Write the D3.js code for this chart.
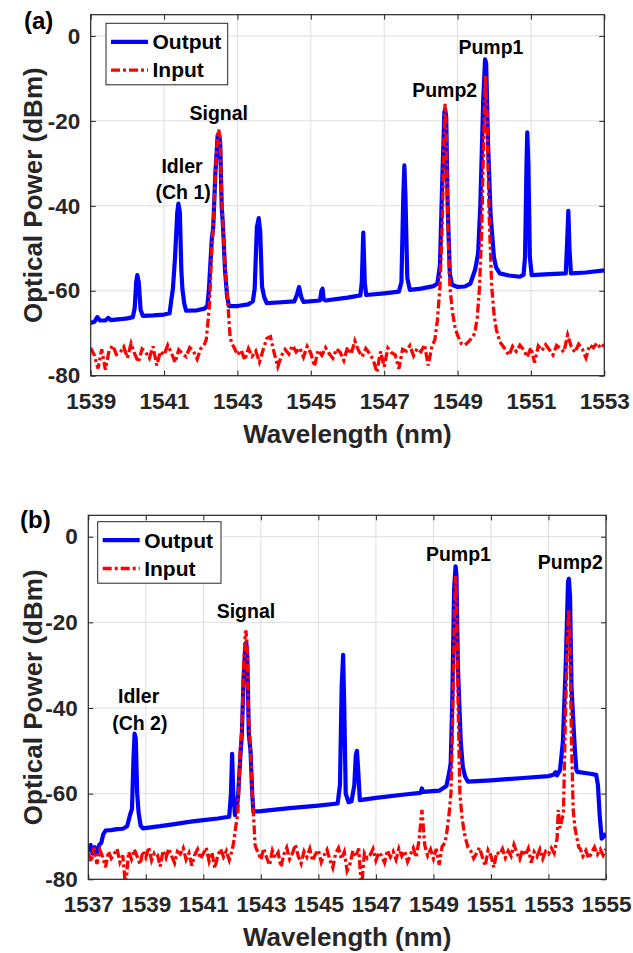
<!DOCTYPE html>
<html>
<head>
<meta charset="utf-8">
<script src="https://cdn.jsdelivr.net/npm/d3@7"></script>
<style>
body { margin: 0; background: #fff; }
text { font-family: "Liberation Sans", Arial, sans-serif; font-weight: bold; }
</style>
</head>
<body>
<div id="chart"></div>
<script>
// OSA sample spacing used for the noise floor readings (nm)
const floorStep = 0.1

// ---------- panel (a) ----------
const a_xticks = [1539, 1541, 1543, 1545, 1547, 1549, 1551, 1553]
const a_yticks = [0, -20, -40, -60, -80]

// Output spectrum [wavelength nm, power dBm]
const a_out = [
  [1539.0,-67.6],[1539.1,-67.3],[1539.18,-66.2],[1539.25,-67.0],[1539.4,-67.0],[1539.48,-66.4],[1539.55,-66.9],
  [1539.8,-66.7],[1540.0,-66.5],[1540.15,-66.2],[1540.2,-64],[1540.24,-58],[1540.27,-56.3],[1540.31,-58],
  [1540.36,-64.5],[1540.42,-65.9],[1540.7,-65.8],[1541.0,-65.6],[1541.15,-65.3],[1541.2,-62],[1541.24,-59.6],
  [1541.3,-52],[1541.36,-41.5],[1541.39,-39.5],[1541.43,-41.5],[1541.47,-55],[1541.5,-59.6],[1541.55,-63],
  [1541.6,-64.7],[1541.9,-64.6],[1542.1,-64.2],[1542.18,-63.6],[1542.22,-60],[1542.3,-48],[1542.34,-45],
  [1542.4,-32],[1542.46,-23.5],[1542.49,-23.1],[1542.53,-25],[1542.57,-40],[1542.61,-45.5],[1542.66,-55],
  [1542.72,-61.5],[1542.77,-63.6],[1543.0,-63.6],[1543.3,-63.2],[1543.42,-62.5],[1543.47,-59.5],[1543.53,-45],
  [1543.58,-42.9],[1543.62,-46],[1543.67,-59],[1543.73,-61.5],[1543.8,-62.9],[1544.2,-62.7],[1544.55,-62.5],
  [1544.62,-61],[1544.68,-59.1],[1544.74,-61.5],[1544.8,-62.6],[1545.25,-62.3],[1545.29,-60],[1545.32,-59.5],
  [1545.35,-62],[1545.4,-62.3],[1546.0,-61.6],[1546.35,-61.1],[1546.39,-58],[1546.43,-46.3],[1546.47,-58],
  [1546.51,-61.0],[1547.0,-60.6],[1547.4,-60.2],[1547.47,-58],[1547.52,-38],[1547.55,-30.5],[1547.58,-38],
  [1547.63,-57],[1547.7,-59.8],[1548.0,-59.5],[1548.35,-58.9],[1548.45,-58.3],[1548.52,-54],[1548.58,-35],
  [1548.64,-18],[1548.66,-17.2],[1548.69,-19],[1548.73,-40],[1548.79,-56],[1548.85,-58.6],[1549.0,-59.1],
  [1549.2,-59.0],[1549.35,-58.3],[1549.48,-55],[1549.56,-51.2],[1549.62,-40],[1549.7,-15],[1549.75,-5.5],
  [1549.78,-6.5],[1549.83,-25],[1549.9,-42],[1549.99,-52],[1550.05,-54.5],[1550.15,-55.9],[1550.4,-56.4],
  [1550.7,-56.7],[1550.8,-56.2],[1550.84,-52],[1550.88,-30],[1550.9,-22.7],[1550.93,-30],[1550.97,-52],
  [1551.02,-56.3],[1551.5,-56.1],[1551.95,-55.9],[1551.99,-48],[1552.02,-41.2],[1552.05,-50],[1552.09,-55.9],
  [1552.5,-55.7],[1553.0,-55.2]
]

// Input spectrum: peaks read point by point
const a_in_peaks = [
  [1542.15,-71.5],[1542.2,-67],[1542.24,-63],[1542.3,-50],[1542.34,-45],[1542.4,-32],[1542.46,-23],
  [1542.49,-22.1],[1542.53,-24],[1542.57,-38],[1542.61,-45.5],[1542.66,-54],[1542.74,-63],[1542.8,-71],
  [1542.85,-72.5],
  [1548.38,-71.6],[1548.45,-67],[1548.52,-59],[1548.58,-45],[1548.63,-25],[1548.66,-16],[1548.69,-22],
  [1548.74,-45],[1548.79,-59],[1548.86,-65],[1548.93,-68.5],[1549.0,-70.5],[1549.05,-71.5],[1549.1,-72.4],
  [1549.2,-72.8],[1549.3,-72.0],[1549.4,-71],[1549.47,-70],[1549.54,-66],[1549.6,-59],[1549.66,-45],
  [1549.71,-25],[1549.76,-9.4],[1549.8,-18],[1549.86,-42],[1549.93,-59],[1550.0,-66],[1550.06,-69.2],
  [1550.15,-72]
]
// Input noise floor, one reading per 0.1 nm, starting at these wavelengths
const a_in_floor_start = [1539.0, 1542.9, 1550.2]
const a_in_floor1 = [-73.5,-75.2,-78.3,-73.8,-78.6,-74.1,-72.9,-75.0,-74.6,-73.2,-75.8,-72.4,-74.9,-76.8,-73.7,-74.5,
  -75.9,-73.1,-77.6,-74.3,-75.1,-72.8,-74.6,-76.9,-73.9,-74.8,-75.5,-73.4,-74.2,-76.1,-73.6,-72.6]
const a_in_floor2 = [-73.2,-75.1,-74.0,-76.3,-73.6,-75.4,-74.2,-76.8,-73.9,-71.2,-70.8,-74.6,-77.9,-75.3,-73.8,-74.9,
  -72.9,-74.4,-73.5,-75.6,-73.1,-74.7,-77.8,-74.0,-75.2,-73.4,-74.8,-75.9,-73.7,-74.5,-76.4,-73.3,-74.9,-71.8,
  -74.1,-75.5,-73.6,-74.8,-76.2,-79.2,-74.3,-77.9,-73.5,-74.6,-75.1,-78.4,-73.8,-74.2,-72.9,-75.3,-73.6,-74.4,
  -72.7,-77.6,-73.1]
const a_in_floor3 = [-72.6,-73.8,-75.2,-73.1,-74.3,-72.8,-73.9,-75.6,-73.4,-76.9,-73.0,-74.1,-72.7,-73.8,-75.1,-72.9,
  -73.6,-74.4,-70.4,-73.2,-74.5,-72.6,-73.7,-75.8,-72.8,-73.4,-72.3,-73.5,-72.6]

const a_notes = [
  ["Signal", 1542.49, -19.7], ["Idler", 1541.49, -32.2], ["(Ch 1)", 1541.52, -38.5],
  ["Pump2", 1548.65, -14.3], ["Pump1", 1549.91, -4.3]
]

// ---------- panel (b) ----------
const b_xticks = [1537, 1539, 1541, 1543, 1545, 1547, 1549, 1551, 1553, 1555]
const b_yticks = [0, -20, -40, -60, -80]

const b_out = [
  [1537.0,-73.5],[1537.08,-72],[1537.15,-74],[1537.22,-72.5],[1537.3,-73.8],[1537.38,-72],[1537.45,-71.5],
  [1537.52,-69.5],[1537.6,-68.6],[1537.8,-68.5],[1538.0,-68.3],[1538.2,-68.2],[1538.35,-67.6],[1538.45,-65],
  [1538.52,-63.5],[1538.57,-52],[1538.61,-46],[1538.65,-47],[1538.7,-60],[1538.75,-64.5],[1538.82,-67.5],
  [1538.9,-68.1],[1539.5,-67.6],[1540.0,-67.1],[1540.5,-66.6],[1541.0,-66.2],[1541.5,-65.8],[1541.9,-65.4],
  [1541.96,-60],[1542.0,-50.7],[1542.04,-60],[1542.1,-65],[1542.2,-61.5],[1542.28,-52],[1542.34,-46],
  [1542.4,-33],[1542.46,-25.5],[1542.49,-24.7],[1542.53,-28],[1542.58,-46],[1542.64,-50],[1542.7,-60],
  [1542.74,-64.2],[1543.0,-64.1],[1544.0,-63.4],[1545.0,-62.8],[1545.67,-62.3],[1545.75,-58],[1545.81,-35],
  [1545.86,-27.6],[1545.9,-40],[1545.95,-60],[1546.05,-62],[1546.15,-61.8],[1546.25,-58],[1546.3,-51],
  [1546.34,-50],[1546.38,-54],[1546.44,-61.5],[1547.0,-61.0],[1548.0,-60.2],[1548.55,-59.8],[1548.6,-58.8],
  [1548.65,-59.6],[1549.2,-59.3],[1549.45,-58.2],[1549.55,-55],[1549.6,-52.9],[1549.65,-40],[1549.72,-12],
  [1549.77,-6.9],[1549.8,-9],[1549.85,-30],[1549.95,-48],[1550.02,-53.7],[1550.1,-56],[1550.2,-57.2],
  [1551.0,-56.9],[1552.0,-56.4],[1553.0,-55.9],[1553.17,-55.6],[1553.25,-55],[1553.3,-55.7],[1553.4,-54.5],
  [1553.5,-48],[1553.6,-30],[1553.68,-10.5],[1553.71,-9.8],[1553.75,-14],[1553.8,-35],[1553.86,-42.8],
  [1553.92,-50],[1553.97,-54.5],[1554.0,-54.9],[1554.4,-55.3],[1554.66,-55.6],[1554.72,-58],[1554.78,-65],
  [1554.85,-70.5],[1554.92,-70],[1555.0,-69.3]
]

const b_in_peaks = [
  [1542.05,-71.5],[1542.12,-68],[1542.2,-64.6],[1542.28,-50],[1542.34,-45],[1542.4,-30],[1542.46,-22.5],
  [1542.48,-21.9],[1542.52,-25],[1542.57,-42],[1542.63,-48],[1542.7,-60],[1542.74,-64.6],[1542.8,-72],
  [1542.85,-73],
  [1549.46,-69.3],[1549.54,-65],[1549.61,-59.9],[1549.67,-42],[1549.73,-18],[1549.77,-9.2],[1549.8,-14],
  [1549.86,-40],[1549.92,-60],[1550.0,-66],[1550.1,-70.1],[1550.2,-72.5],
  [1553.34,-63.8],[1553.4,-68],[1553.47,-66],[1553.52,-64.6],[1553.58,-45],[1553.64,-28],[1553.7,-17],
  [1553.74,-22],[1553.8,-48],[1553.86,-63.8],[1553.92,-68],[1553.98,-70.1],[1554.05,-72.5]
]
const b_in_floor_start = [1537.0, 1542.9, 1550.3, 1554.1]
const b_in_floor1 = [-73.8,-75.9,-72.6,-76.4,-73.1,-74.8,-77.2,-73.5,-75.1,-74.0,
  -72.9,-76.0,-74.4,-82.0,-73.6,-75.3,-73.0,-74.7,-76.5,-73.4,
  -74.9,-72.5,-75.6,-73.8,-74.2,-77.0,-73.3,-75.0,-72.8,-74.6,
  -76.2,-73.5,-74.1,-72.7,-75.4,-73.9,-76.8,-74.3,-73.0,-75.2,
  -74.0,-72.6,-75.8,-73.7,-77.4,-74.5,-72.9,-74.8,-73.4,-75.5,-73.2]
const b_in_floor2 = [-73.6,-75.4,-72.8,-74.9,-76.7,-73.3,-75.0,-73.8,-77.1,-74.2,-72.6,-75.3,-73.9,-71.9,-74.6,-76.3,
  -73.5,-74.8,-72.9,-75.7,-74.1,-73.2,-76.0,-74.4,-73.1,-75.5,-77.3,-74.0,-72.7,-75.2,-73.6,-78.0,-76.4,-73.3,
  -74.7,-72.8,-82.0,-73.9,-75.1,-74.3,-72.9,-75.6,-73.7,-74.5,-76.1,-73.2,-74.8,-73.5,-75.4,-72.8,-74.6,-73.4,
  -75.9,-74.2,-72.7,-74.9,-70.8,-63.8,-72.1,-74.5,-73.0,-75.2,-72.9,-76.6,-72.4,-71.5]
const b_in_floor3 = [-73.4,-75.1,-73.9,-72.6,-74.8,-76.9,-73.2,-74.5,-77.2,-73.7,-74.2,-72.9,-75.0,-73.4,-74.6,-71.9,
  -73.8,-75.3,-73.1,-74.4,-72.8,-76.1,-73.6,-74.7,-73.0,-75.2,-73.5,-74.1,-72.7,-73.9,-70.5]
const b_in_floor4 = [-72.8,-74.6,-73.3,-75.1,-73.8,-72.5,-74.2,-73.0,-74.4,-72.9]

const b_notes = [
  ["Signal", 1542.48, -19.0], ["Idler", 1538.75, -38.9], ["(Ch 2)", 1538.79, -45.1],
  ["Pump1", 1549.87, -5.7], ["Pump2", 1553.76, -7.5]
]

// join floor readings and peak points into one sorted trace
function buildInput(peaks, starts, floors){
  let pts = peaks.slice()
  floors.forEach(function(vals, k){
    vals.forEach(function(v, i){
      pts.push([+(starts[k] + i * floorStep).toFixed(2), v])
    })
  })
  pts.sort(function(a, b){ return a[0] - b[0] })
  return pts
}

const a_in = buildInput(a_in_peaks, a_in_floor_start, [a_in_floor1, a_in_floor2, a_in_floor3])
const b_in = buildInput(b_in_peaks, b_in_floor_start, [b_in_floor1, b_in_floor2, b_in_floor3, b_in_floor4])

var svg = d3.select("#chart")
  .append("svg")
  .attr("width", 633)
  .attr("height", 953)

const axisColor = "#262626"
const redDash = "9,3,3,3"

function drawPanel(p){
  var width = p.width, height = p.height
  var g = svg.append("g").attr("transform", "translate(" + p.left + "," + p.top + ")")

  var x = d3.scaleLinear().domain(p.xdomain).range([0, width])
  var y = d3.scaleLinear().domain([-80, 5]).range([height, 0])

  // grid
  g.append("g").selectAll("line").data(p.xticks).enter().append("line")
    .attr("x1", d => x(d)).attr("x2", d => x(d)).attr("y1", 0).attr("y2", height)
    .style("stroke", "#dfdfdf").style("stroke-width", 1)
  g.append("g").selectAll("line").data(p.yticks).enter().append("line")
    .attr("x1", 0).attr("x2", width).attr("y1", d => y(d)).attr("y2", d => y(d))
    .style("stroke", "#dfdfdf").style("stroke-width", 1)

  // data, clipped to the axes box
  var clipId = "clip" + p.name
  g.append("clipPath").attr("id", clipId)
    .append("rect").attr("width", width).attr("height", height)

  var line = d3.line().x(d => x(d[0])).y(d => y(d[1]))
  var data = g.append("g").attr("clip-path", "url(#" + clipId + ")")
  data.append("path").datum(p.out).attr("d", line)
    .style("fill", "none").style("stroke", "#0000ff").style("stroke-width", 4.2)
    .style("stroke-linejoin", "round")
  data.append("path").datum(p.input).attr("d", line)
    .style("fill", "none").style("stroke", "#ff0000").style("stroke-width", 3.3)
    .style("stroke-dasharray", redDash)

  // axes
  var fmt = d => String(d)
  var xb = g.append("g").attr("transform", "translate(0," + height + ")")
    .call(d3.axisBottom(x).tickValues(p.xticks).tickSize(-5).tickPadding(17).tickFormat(fmt))
  var yl = g.append("g")
    .call(d3.axisLeft(y).tickValues(p.yticks).tickSize(-5).tickPadding(10.5).tickFormat(fmt))
  var xt = g.append("g")
    .call(d3.axisTop(x).tickValues(p.xticks).tickSize(-5).tickFormat(""))
  var yr = g.append("g").attr("transform", "translate(" + width + ",0)")
    .call(d3.axisRight(y).tickValues(p.yticks).tickSize(-5).tickFormat(""))
  ;[xb, yl, xt, yr].forEach(function(a){
    a.select(".domain").remove()
    a.selectAll("line").style("stroke", axisColor)
    a.selectAll("text").style("font-size", "22.5px").style("fill", axisColor)
      .style("font-family", "'Liberation Sans', Arial, sans-serif").style("font-weight", "bold")
  })
  g.append("rect").attr("width", width).attr("height", height)
    .style("fill", "none").style("stroke", axisColor).style("stroke-width", 1.2)

  // axis titles
  g.append("text")
    .attr("text-anchor", "middle")
    .attr("x", width / 2)
    .attr("y", height + 67)
    .text("Wavelength (nm)")
    .style("font-size", "26px").style("fill", axisColor)
  g.append("text")
    .attr("text-anchor", "middle")
    .attr("transform", "rotate(-90)")
    .attr("x", -height / 2)
    .attr("y", -p.left + 42)
    .text("Optical Power (dBm)")
    .style("font-size", "26px").style("fill", axisColor)

  // panel tag
  svg.append("text")
    .attr("x", p.tagX).attr("y", p.tagY)
    .text(p.tag)
    .style("font-size", "24px").style("fill", "#000")

  // annotations
  g.append("g").selectAll("text").data(p.notes).enter().append("text")
    .attr("text-anchor", "middle")
    .attr("x", d => x(d[1]))
    .attr("y", d => y(d[2]))
    .text(d => d[0])
    .style("font-size", "19.5px").style("fill", "#000")

  // legend
  var lg = g.append("g").attr("transform", "translate(" + p.legX + "," + p.legY + ")")
  lg.append("rect").attr("width", p.legW).attr("height", 61.5)
    .style("fill", "#fff").style("stroke", axisColor).style("stroke-width", 1)
  var items = [["Output", "#0000ff", null, 4.2], ["Input", "#ff0000", redDash, 3.3]]
  items.forEach(function(it, i){
    var cy = 18.5 + i * 28.3
    lg.append("line")
      .attr("x1", 5).attr("x2", 42).attr("y1", cy).attr("y2", cy)
      .style("stroke", it[1]).style("stroke-width", it[3])
      .style("stroke-dasharray", it[2])
    lg.append("text")
      .attr("x", 46.5).attr("y", cy).attr("dy", "0.35em")
      .text(it[0])
      .style("font-size", "21px").style("fill", "#000")
  })
}

drawPanel({
  name: "a", tag: "(a)", tagX: 24, tagY: 29,
  left: 90.7, top: 14.7, width: 513.6, height: 361,
  xdomain: [1539, 1553], xticks: a_xticks, yticks: a_yticks,
  out: a_out, input: a_in, notes: a_notes,
  legX: 15.3, legY: 8.6, legW: 121.7
})

drawPanel({
  name: "b", tag: "(b)", tagX: 20, tagY: 528,
  left: 88.3, top: 515.3, width: 517.7, height: 364,
  xdomain: [1537, 1555], xticks: b_xticks, yticks: b_yticks,
  out: b_out, input: b_in, notes: b_notes,
  legX: 9.4, legY: 6.4, legW: 123.3
})
</script>
</body>
</html>
